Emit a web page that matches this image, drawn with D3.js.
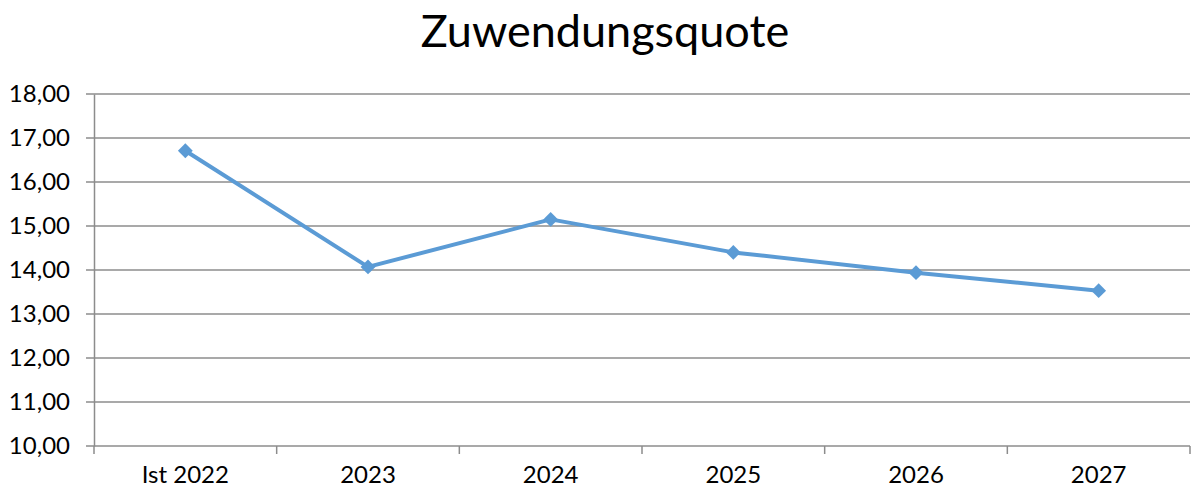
<!DOCTYPE html>
<html lang="de">
<head>
<meta charset="UTF-8">
<title>Zuwendungsquote</title>
<style>
  body { margin: 0; background: #fff; }
  svg text { font-family: Lato, "Noto Sans", sans-serif; fill: #000; }
</style>
</head>
<body>
<div id="chart"></div>
<script src="https://cdn.jsdelivr.net/npm/d3@7"></script>
<script>
  // values
  const categories = ["Ist 2022", "2023", "2024", "2025", "2026", "2027"];
  const quote = [16.71, 14.07, 15.15, 14.40, 13.94, 13.53];
  const yTicks = [10, 11, 12, 13, 14, 15, 16, 17, 18];

  const W = 1191, H = 491;
  const margin = {top: 94, right: 1, bottom: 45, left: 94};
  const width = W - margin.left - margin.right,
        height = H - margin.top - margin.bottom;

  const svg = d3.select("#chart").append("svg")
      .attr("width", W)
      .attr("height", H);

  svg.append("text")
      .attr("x", 605)
      .attr("y", 47)
      .attr("text-anchor", "middle")
      .style("font-size", "45px")
      .text("Zuwendungsquote");

  const g = svg.append("g")
      .attr("transform", `translate(${margin.left},${margin.top})`);

  const x = d3.scaleBand()
      .domain(categories)
      .range([0, width]);

  const y = d3.scaleLinear()
      .domain([10, 18])
      .range([height, 0]);

  // gridlines
  g.append("g")
    .selectAll("line")
    .data(yTicks)
    .join("line")
      .attr("x1", -8)
      .attr("x2", width)
      .attr("y1", d => y(d))
      .attr("y2", d => y(d))
      .attr("stroke", "#8c8c8c")
      .attr("stroke-width", 1.5);

  const fmt = d => d3.format(".2f")(d).replace(".", ",");

  const yAxis = g.append("g")
      .call(d3.axisLeft(y).tickValues(yTicks).tickFormat(fmt).tickSize(0).tickPadding(24));
  yAxis.select(".domain").attr("stroke", "#8c8c8c").attr("stroke-width", 1.5);
  yAxis.selectAll("text").style("font-size", "24px").attr("fill", "#000");

  const xAxis = g.append("g")
      .attr("transform", `translate(0,${height})`)
      .call(d3.axisBottom(x).tickSize(0).tickPadding(20));
  xAxis.select(".domain").remove();
  xAxis.selectAll("text").style("font-size", "24px").attr("fill", "#000");

  // category boundary ticks below the axis
  const bounds = categories.map(c => x(c)).concat([width]);
  g.append("g")
    .selectAll("line")
    .data(bounds)
    .join("line")
      .attr("x1", d => d)
      .attr("x2", d => d)
      .attr("y1", height)
      .attr("y2", height + 8)
      .attr("stroke", "#8c8c8c")
      .attr("stroke-width", 1.5);

  const pts = categories.map((c, i) => ({cat: c, v: quote[i]}));

  g.append("path")
      .datum(pts)
      .attr("fill", "none")
      .attr("stroke", "#5b9bd5")
      .attr("stroke-width", 4)
      .attr("stroke-linejoin", "round")
      .attr("d", d3.line()
          .x(d => x(d.cat) + x.bandwidth() / 2)
          .y(d => y(d.v)));

  g.append("g")
    .selectAll("path")
    .data(pts)
    .join("path")
      .attr("transform", d => `translate(${x(d.cat) + x.bandwidth() / 2},${y(d.v)})`)
      .attr("d", d3.symbol().type(d3.symbolDiamond2).size(140))
      .attr("fill", "#5b9bd5");
</script>
</body>
</html>
